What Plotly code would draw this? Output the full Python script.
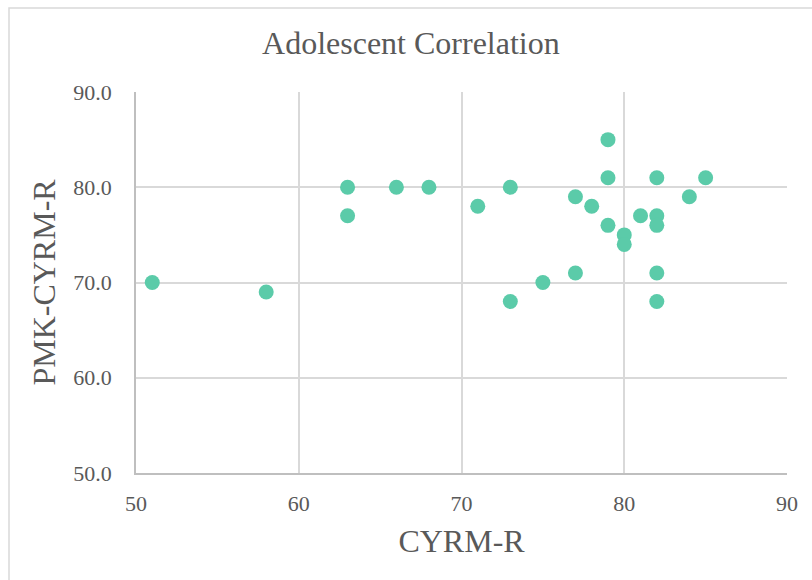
import plotly.graph_objects as go

cyrm_r = [51, 58, 63, 63, 66, 68, 71, 73, 73, 75, 77, 77, 78, 79, 79, 79,
          80, 80, 81, 82, 82, 82, 82, 82, 84, 85]
pmk_cyrm_r = [70, 69, 80, 77, 80, 80, 78, 80, 68, 70, 79, 71, 78, 85, 81, 76,
              75, 74, 77, 81, 77, 76, 71, 68, 79, 81]

x_ticks = [50, 60, 70, 80, 90]
y_ticks = [50, 60, 70, 80, 90]

FONT = "Liberation Serif"
TXT = "#595959"
GRID = "#D9D9D9"

fig = go.Figure()
fig.add_trace(go.Scatter(
    x=cyrm_r, y=pmk_cyrm_r, mode="markers",
    marker=dict(color="#5BCBA9", size=15, line=dict(width=0)),
    showlegend=False, hoverinfo="x+y",
))

fig.update_layout(
    width=812, height=580,
    margin=dict(l=136, r=25, t=92, b=107),
    paper_bgcolor="white", plot_bgcolor="white",
    font=dict(family=FONT, color=TXT),
    title=dict(text="Adolescent Correlation", x=0.506, xref="container",
               xanchor="center", y=1 - 43 / 580, yanchor="middle",
               font=dict(family=FONT, size=32, color=TXT)),
    shapes=[dict(type="rect", xref="paper", yref="paper",
                 x0=(9 - 136) / 651, x1=1.2, y0=-0.5, y1=(473 - 8) / 381,
                 line=dict(color="#D9D9D9", width=1.5), fillcolor="rgba(0,0,0,0)",
                 layer="below")],
)

fig.update_xaxes(
    range=[50, 90], tickvals=x_ticks, ticktext=[str(v) for v in x_ticks],
    showgrid=True, gridcolor=GRID, gridwidth=1.5,
    showline=True, linecolor="#BFBFBF", linewidth=1.5,
    zeroline=False, ticks="outside", ticklen=10, tickcolor="rgba(0,0,0,0)",
    tickfont=dict(family=FONT, size=22, color=TXT),
    title=dict(text="CYRM-R", font=dict(family=FONT, size=32, color=TXT), standoff=14),
)
fig.update_yaxes(
    range=[50, 90], tickvals=y_ticks, tickformat=".1f",
    showgrid=True, gridcolor=GRID, gridwidth=1.5,
    showline=True, linecolor="#BFBFBF", linewidth=1.5,
    zeroline=False, ticks="outside", ticklen=18, tickcolor="rgba(0,0,0,0)",
    tickfont=dict(family=FONT, size=22, color=TXT),
    title=dict(text="PMK-CYRM-R", font=dict(family=FONT, size=32, color=TXT), standoff=8),
)

fig.write_html("out.html")
